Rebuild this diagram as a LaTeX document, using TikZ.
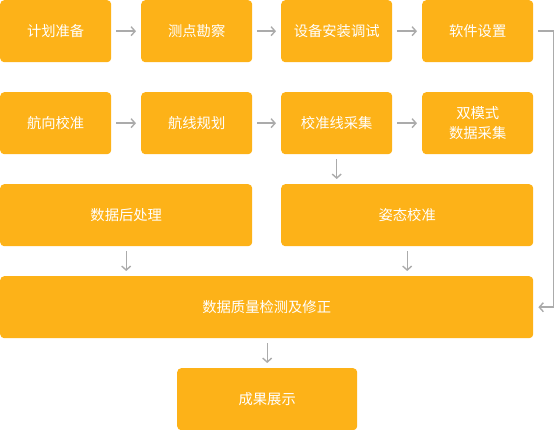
\documentclass[tikz,border=0pt]{standalone}
\usepackage{fontspec}
\newfontfamily\cjk{Noto Sans CJK SC}
\usetikzlibrary{arrows.meta}
\definecolor{boxc}{HTML}{FDB218}
\definecolor{arrc}{HTML}{ABABAB}
\tikzset{
  box/.style={fill=boxc, rounded corners=4pt, text=white, inner sep=0pt, anchor=north west,
    font=\cjk\fontsize{14.3}{20}\selectfont, align=center},
  arr/.style={draw=arrc, line width=1.4pt, -{Straight Barb[length=4pt,width=9pt,line width=1.4pt]}},
  gap/.style={shorten <=5pt, shorten >=5pt}
}
\begin{document}
\begin{tikzpicture}[x=1pt,y=-1pt]
\useasboundingbox (0,0) rectangle (555,430);
% row 1
\node[box, minimum width=111pt, minimum height=62pt] (a1) at (0,0) {计划准备};
\node[box, minimum width=111pt, minimum height=62pt] (a2) at (141,0) {测点勘察};
\node[box, minimum width=111pt, minimum height=62pt] (a3) at (281,0) {设备安装调试};
\node[box, minimum width=111pt, minimum height=62pt] (a4) at (422,0) {软件设置};
% row 2
\node[box, minimum width=111pt, minimum height=62pt] (b1) at (0,92) {航向校准};
\node[box, minimum width=111pt, minimum height=62pt] (b2) at (141,92) {航线规划};
\node[box, minimum width=111pt, minimum height=62pt] (b3) at (281,92) {校准线采集};
\node[box, minimum width=111pt, minimum height=62pt] (b4) at (422,92) {双模式\\数据采集};
% row 3
\node[box, minimum width=252pt, minimum height=62pt] (c1) at (0,184) {数据后处理};
\node[box, minimum width=252pt, minimum height=62pt] (c2) at (281,184) {姿态校准};
% row 4
\node[box, minimum width=533pt, minimum height=62pt] (d) at (0,276) {数据质量检测及修正};
% row 5
\node[box, minimum width=180pt, minimum height=62pt] (e) at (177,368) {成果展示};
% horizontal arrows
\draw[arr, gap] (a1) -- (a2);
\draw[arr, gap] (a2) -- (a3);
\draw[arr, gap] (a3) -- (a4);
\draw[arr, gap] (b1) -- (b2);
\draw[arr, gap] (b2) -- (b3);
\draw[arr, gap] (b3) -- (b4);
% vertical arrows
\draw[arr, gap] (b3.south) -- (b3.south |- c2.north);
\draw[arr, gap] (c1.south) -- (c1.south |- d.north);
\draw[arr, gap] (c2.south) -- (c2.south |- d.north);
\draw[arr, gap] (d.south -| e.north) -- (e.north);
% side connector
\draw[arr] ([xshift=5pt]a4.east) -- ++(15,0) |- ([xshift=5pt]d.east);
\end{tikzpicture}
\end{document}
